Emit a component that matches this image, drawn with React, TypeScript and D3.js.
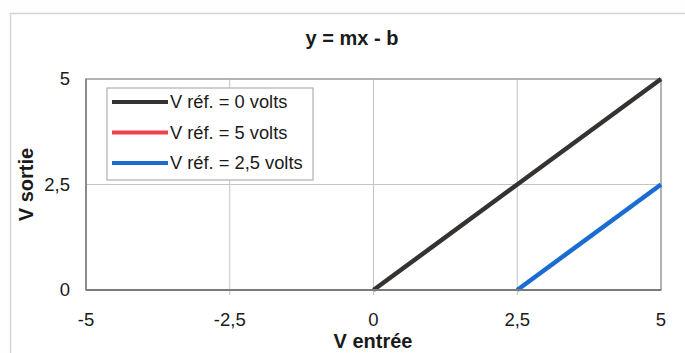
import React from "react";
import * as d3 from "d3";

const xTicks = [-5, -2.5, 0, 2.5, 5];
const yTicks = [0, 2.5, 5];
const tickLabel = (v: number) => String(v).replace(".", ",");

const seriesNames = ["V réf. = 0 volts", "V réf. = 5 volts", "V réf. = 2,5 volts"];
const seriesColors = ["#35322f", "#f2404f", "#1a6cd2"];
// visible (non-zero) parts of y = max(0, x - Vref)
const blackX = [0, 2.5, 5];
const blackY = [0, 2.5, 5];
const redX = [5];
const redY = [0];
const blueX = [2.5, 5];
const blueY = [0, 2.5];

const W = 685;
const H = 353;
const left = 86, right = 661, top = 79, bottom = 290;
const font = "'Liberation Sans', Arial, sans-serif";

export default function App() {
  const x = d3.scaleLinear().domain([-5, 5]).range([left, right]);
  const y = d3.scaleLinear().domain([0, 5]).range([bottom, top]);
  const line = d3
    .line<[number, number]>()
    .x((d) => x(d[0]))
    .y((d) => y(d[1]));
  const series = [
    { xs: blackX, ys: blackY },
    { xs: redX, ys: redY },
    { xs: blueX, ys: blueY },
  ];
  return (
    <div style={{ position: "fixed", left: 0, top: 0 }}>
      <svg width={W} height={H} style={{ display: "block", background: "#fff" }}>
        <rect x={0} y={0} width={W} height={H} fill="#fefefe" />
        <rect x={10.5} y={13.5} width={700} height={400} fill="#fff" stroke="#d4d4d4" strokeWidth={1.5} />
        <text x={352} y={45} textAnchor="middle" fontFamily={font} fontWeight="bold" fontSize={20} fill="#1a1a1a">
          y = mx - b
        </text>
        {/* gridlines */}
        {xTicks.slice(1, -1).map((t) => (
          <line key={"gx" + t} x1={x(t)} x2={x(t)} y1={top} y2={bottom + 5} stroke="#c4c4c4" strokeWidth={1} />
        ))}
        {yTicks.slice(1, -1).map((t) => (
          <line key={"gy" + t} x1={left} x2={right} y1={y(t)} y2={y(t)} stroke="#c4c4c4" strokeWidth={1.2} />
        ))}
        {/* plot border */}
        <rect x={left} y={top} width={right - left} height={bottom - top} fill="none" stroke="#9a9a9a" strokeWidth={1.5} />
        {/* series */}
        {series.map((s, i) => (
          <path
            key={"s" + i}
            d={line(s.xs.map((v, j) => [v, s.ys[j]] as [number, number])) || ""}
            fill="none"
            stroke={seriesColors[i]}
            strokeWidth={4.5}
          />
        ))}
        {/* axes */}
        <line x1={left} x2={right} y1={bottom} y2={bottom} stroke="#7a7a7a" strokeWidth={2} />
        <line x1={left} x2={left} y1={top} y2={bottom} stroke="#8a8a8a" strokeWidth={2} />
        {xTicks.map((t) => (
          <text key={"xt" + t} x={x(t)} y={326} textAnchor="middle" fontFamily={font} fontSize={18.5} fill="#1a1a1a">
            {tickLabel(t)}
          </text>
        ))}
        {yTicks.map((t) => (
          <text key={"yt" + t} x={70} y={y(t)} dy="0.35em" textAnchor="end" fontFamily={font} fontSize={18.5} fill="#1a1a1a">
            {tickLabel(t)}
          </text>
        ))}
        <text x={373} y={348} textAnchor="middle" fontFamily={font} fontWeight="bold" fontSize={20} fill="#1a1a1a">
          V entrée
        </text>
        <text
          transform={`translate(33,${(top + bottom) / 2}) rotate(-90)`}
          textAnchor="middle"
          fontFamily={font}
          fontWeight="bold"
          fontSize={20}
          fill="#1a1a1a"
        >
          V sortie
        </text>
        {/* legend */}
        <rect x={107} y={88} width={206} height={92} fill="#fff" stroke="#b0b0b0" strokeWidth={1.2} />
        {seriesNames.map((n, i) => (
          <g key={"lg" + i} transform={`translate(0,${102 + i * 30.5})`}>
            <line x1={112} x2={168} y1={0} y2={0} stroke={seriesColors[i]} strokeWidth={4} />
            <text x={170} y={0} dy="0.35em" fontFamily={font} fontSize={18.3} fill="#1a1a1a">
              {n}
            </text>
          </g>
        ))}
      </svg>
    </div>
  );
}
